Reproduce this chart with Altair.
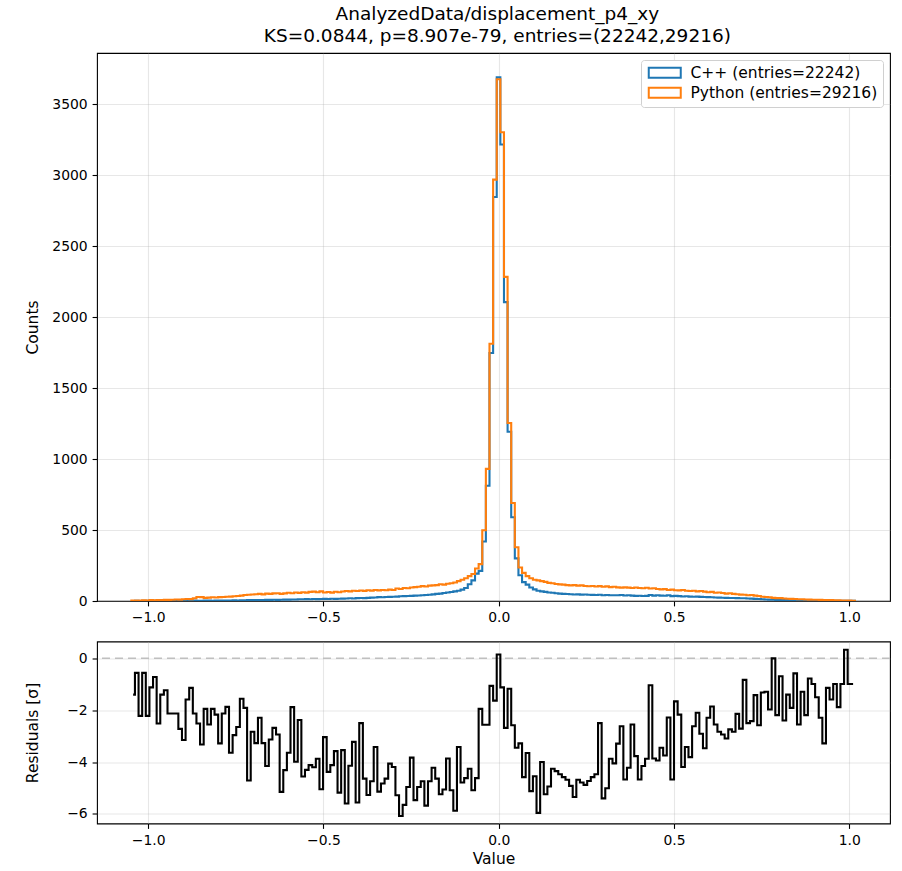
import altair as alt
import pandas as pd

title_lines = ["AnalyzedData/displacement_p4_xy",
               "KS=0.0844, p=8.907e-79, entries=(22242,29216)"]
series_names = ["C++ (entries=22242)", "Python (entries=29216)"]
series_colors = ["#1f77b4", "#ff7f0e"]

bin_lo = -1.0481
bin_width = 0.01032
n_bins = 200

cpp_counts = [
    0, 1, 0, 1, 1, 0, 1, 1, 1, 2, 1, 1, 2, 2, 1, 2, 2, 3, 2,
    2, 3, 3, 2, 3, 4, 3, 4, 4, 5, 4, 5, 5, 6,
    6, 7, 6, 7, 8, 8, 9, 8, 9, 10, 10, 11, 11,
    12, 12, 13, 12, 14, 13, 14, 15, 14, 16, 15, 16, 17,
    18, 19, 18, 20, 21, 20, 22,
    24, 25, 27, 26, 28, 29, 30,
    31, 33, 34, 35, 36, 38, 39, 41,
    42, 44, 47, 50, 52, 56, 60, 63, 68, 72,
    80, 92, 118, 145, 193, 212,
    419, 812, 1747, 2846, 3688, 3216, 2105, 1192, 590, 300,
    181, 133, 115, 95, 82, 72, 68, 64, 60, 58, 55, 52, 50, 49,
    48, 46, 47, 45, 46, 44, 43, 42, 44, 41, 42, 40, 41, 40, 42,
    39, 40, 38, 36, 37, 35, 36, 42, 38, 40, 38, 37, 40, 34, 36,
    34, 32, 33, 31, 30, 31, 29, 28, 27, 26, 25, 24, 23, 22, 21,
    21, 20, 19, 19, 18, 17, 15, 14, 12, 11, 10, 10, 8, 8, 7,
    6, 6, 5, 5, 4, 4, 4, 3, 3, 2, 2, 2, 2, 1, 1, 1, 1, 1, 1,
]

py_counts = [
    3, 4, 3, 5, 4, 6, 5, 7, 6, 8,
    8, 9, 11, 10, 12, 14, 13, 19, 28, 27,
    22, 24, 26, 25, 27, 28, 30, 31, 33, 35,
    38, 42, 44, 46, 48, 50, 47, 52, 50, 54,
    55, 50, 54, 58, 55, 60, 57, 62, 59, 64,
    66, 62, 68, 60, 63, 59, 65, 62, 67, 70,
    68, 72, 70, 74, 71, 76, 73, 78, 75, 77,
    76, 80, 78, 88, 85, 92, 90, 95, 98, 100,
    105, 102, 108, 110, 112, 118, 115, 122, 125, 130,
    140, 150, 160, 175, 190, 229, 260,
    498, 931, 1812, 2968, 3675, 3302, 2283, 1254, 690, 379,
    236, 198, 175, 160, 150, 145, 140, 135, 128, 125, 120, 117, 115, 112,
    110, 112, 108, 110, 106, 104, 106, 102, 105, 100, 103, 98, 100, 96, 94,
    96, 94, 92, 95, 92, 90, 93, 88, 90, 85, 82, 84, 78, 80, 76,
    75, 78, 72, 70, 72, 68, 70, 66, 62, 64, 58, 60, 56, 52, 55,
    50, 48, 45, 44, 40, 42, 38, 35, 30, 28, 26, 22, 20, 20, 18,
    16, 15, 14, 12, 12, 11, 10, 9, 9, 8, 7, 6, 6, 5, 5, 4, 3, 3, 2,
]

residuals = [
    -1.40, -0.56, -2.22, -0.56, -2.22, -1.12, -0.72, -2.51, -1.40, -1.23,
    -2.13, -2.13, -2.13, -2.72, -3.15, -1.59, -1.14, -2.13, -2.51, -3.32,
    -1.95, -2.55, -1.95, -2.17, -3.28, -2.13, -1.87, -3.64, -2.96, -2.65,
    -1.56, -1.91, -4.71, -2.83, -3.27, -2.29, -3.27, -4.15, -3.13, -2.68,
    -2.94, -5.15, -4.31, -3.64, -1.88, -3.99, -2.38, -4.56, -4.30, -4.12,
    -4.20, -3.87, -5.05, -3.04, -4.38, -4.12, -3.58, -5.18, -3.54, -5.60,
    -4.14, -3.22, -5.56, -2.50, -4.64, -5.27, -4.74, -3.42, -5.14, -4.83,
    -4.64, -4.06, -4.19, -5.28, -6.08, -5.65, -4.96, -3.83, -5.47, -4.96,
    -4.74, -5.68, -4.74, -4.22, -4.64, -5.24, -5.06, -3.86, -5.09, -5.88,
    -3.42, -4.79, -4.62, -4.26, -5.09, -4.62, -1.95, -2.56, -2.56, -1.06,
    -1.63, 0.15, -1.12, -2.68, -1.17, -2.58, -3.45, -3.28, -4.58, -3.65,
    -5.12, -4.55, -5.96, -4.00, -5.24, -4.94, -4.26, -4.35, -4.47, -4.58,
    -4.68, -4.92, -5.35, -4.68, -4.79, -4.88, -4.73, -4.58, -4.47, -2.50,
    -5.40, -5.01, -3.87, -4.05, -3.29, -2.62, -4.67, -4.22, -2.55, -3.77,
    -4.67, -4.15, -3.87, -1.04, -3.86, -3.94, -3.45, -3.75, -2.28, -4.67,
    -1.66, -2.17, -4.19, -3.42, -3.81, -2.62, -2.10, -2.91, -3.47, -2.29,
    -1.86, -2.55, -2.83, -2.94, -3.09, -2.74, -2.83, -2.14, -2.71, -0.83,
    -2.50, -2.42, -1.42, -2.58, -1.32, -1.29, -1.97, 0.00, -2.19, -0.69,
    -2.40, -1.40, -1.91, -0.58, -2.55, -1.29, -2.19, -0.78, -0.99, -1.50,
    -2.29, -3.28, -1.14, -1.59, -0.99, -1.88, -0.99, 0.33, -0.99, -0.99,
]

x_ticks = [-1.0, -0.5, 0.0, 0.5, 1.0]
count_ticks = [0, 500, 1000, 1500, 2000, 2500, 3000, 3500]
resid_ticks = [0, -2, -4, -6]

x_domain = [-1.146, 1.116]
count_domain = [0, 3860]
resid_domain = [-6.37, 0.65]

FONT = "DejaVu Sans"
W = 793
H_TOP = 548
H_BOT = 182

edges = [bin_lo + bin_width * i for i in range(n_bins + 1)]
centers = [bin_lo + bin_width * (i + 0.5) for i in range(n_bins)]

rows = []
for name, counts in zip(series_names, [cpp_counts, py_counts]):
    pts = [(edges[0], 0.0)]
    pts += [(edges[i], counts[i]) for i in range(n_bins)]
    pts += [(edges[n_bins], counts[-1]), (edges[n_bins], 0.0)]
    for k, (xv, yv) in enumerate(pts):
        rows.append({"series": name, "x": xv, "y": yv, "idx": k})
hist_df = pd.DataFrame(rows)

res_df = pd.DataFrame({"x": centers, "r": residuals, "idx": list(range(n_bins))})

minus_expr = "replace(format(datum.value, '{fmt}'), '-', '\u2212')"

x_scale = alt.Scale(domain=x_domain, nice=False, zero=False)
color_scale = alt.Scale(domain=series_names, range=series_colors)

legend = alt.Legend(
    title=None, orient="top-right", offset=7,
    symbolType="M-3.2,-1L3.2,-1L3.2,1L-3.2,1Z", symbolSize=100,
    symbolStrokeWidth=2, symbolFillColor="white", symbolOffset=11,
    labelFont=FONT, labelFontSize=15.5, labelColor="black", labelOffset=18,
    labelLimit=400,
    fillColor="white", strokeColor="#d0d0d0", cornerRadius=3,
    padding=5, rowPadding=1,
)


def hist_layer(name):
    return alt.Chart(hist_df).transform_filter(
        alt.datum.series == name
    ).mark_line(interpolate="step-after", strokeWidth=2.1, clip=True).encode(
        x=alt.X("x:Q", scale=x_scale,
                axis=alt.Axis(values=x_ticks, title=None,
                              labelExpr=minus_expr.format(fmt=".1f"))),
        y=alt.Y("y:Q", scale=alt.Scale(domain=count_domain, nice=False),
                axis=alt.Axis(values=count_ticks, title="Counts", format="d",
                              titleX=-65, titleY=H_TOP / 2,
                              titleBaseline="middle")),
        color=alt.Color("series:N", scale=color_scale, legend=legend,
                        sort=series_names),
        order="idx:Q",
    )


top = alt.layer(hist_layer(series_names[0]), hist_layer(series_names[1])).properties(
    width=W, height=H_TOP
)

zero_line = alt.Chart(pd.DataFrame({"y": [0]})).mark_rule(
    color="#bfbfbf", strokeWidth=1.5, strokeDash=[8, 5]
).encode(y=alt.Y("y:Q", scale=alt.Scale(domain=resid_domain, nice=False)))

res_line = alt.Chart(res_df).mark_line(
    interpolate="step", color="black", strokeWidth=2.1, clip=True
).encode(
    x=alt.X("x:Q", scale=x_scale,
            axis=alt.Axis(values=x_ticks, title="Value", titlePadding=4,
                          labelExpr=minus_expr.format(fmt=".1f"))),
    y=alt.Y("r:Q", scale=alt.Scale(domain=resid_domain, nice=False),
            axis=alt.Axis(values=resid_ticks, title="Residuals [σ]",
                          labelExpr=minus_expr.format(fmt="d"),
                          titleX=-65, titleY=H_BOT / 2,
                          titleBaseline="middle")),
    order="idx:Q",
)

bottom = alt.layer(zero_line, res_line).properties(width=W, height=H_BOT)

chart = alt.vconcat(top, bottom, spacing=14.5).properties(
    title=alt.TitleParams(text=title_lines, fontSize=18.5, font=FONT,
                          fontWeight="normal", color="black",
                          anchor="middle", lineHeight=21.5, offset=7.2,
                          dx=39.5),
    padding={"left": 24, "top": 5, "right": 5, "bottom": 5},
    background="white",
).configure_view(
    stroke="black", strokeWidth=1.1
).configure_axis(
    domain=False, labelFont=FONT, labelFontSize=13.9, labelColor="black",
    tickColor="black", tickWidth=1.1, tickSize=4.9, labelPadding=4.9,
    gridColor="#b0b0b0", gridOpacity=0.3, gridWidth=1.1,
    titleFont=FONT, titleFontSize=15.5, titleFontWeight="normal",
    titleColor="black",
)

chart.save("out.html", embed_options={"renderer": "svg", "actions": False})
